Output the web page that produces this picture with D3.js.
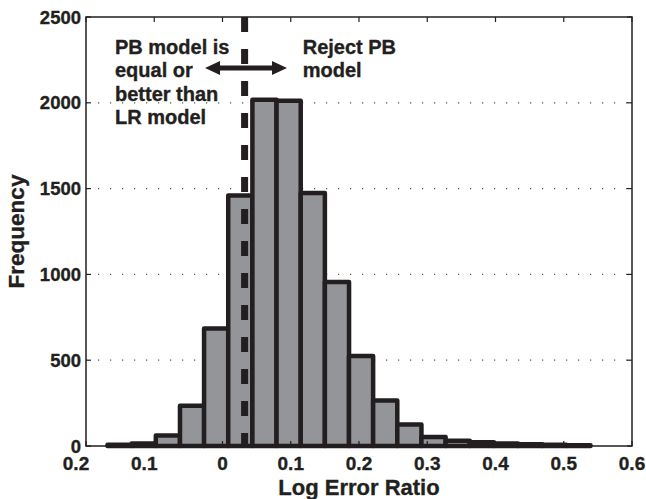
<!DOCTYPE html>
<html>
<head>
<meta charset="utf-8">
<script src="https://cdn.jsdelivr.net/npm/d3@7"></script>
<style>
	body { margin: 0; background: #fff; }
	text { font-family: "Liberation Sans", Arial, Helvetica, sans-serif; font-weight: bold;
		fill: #231f20; stroke: #231f20; stroke-width: 0.35px; }
</style>
</head>
<body>
<svg id="chart" width="646" height="499"></svg>
<script>
// histogram bins (bin centre, count)
var binCenters = [-0.1508, -0.1154, -0.0800, -0.0446, -0.0093, 0.0261, 0.0615, 0.0969,
	0.1323, 0.1677, 0.2030, 0.2384, 0.2738, 0.3092, 0.3446, 0.3800, 0.4153, 0.4507, 0.4861, 0.5215];
var binCounts = [7, 15, 61, 235, 685, 1460, 2018, 2012,
	1475, 955, 525, 265, 125, 52, 30, 22, 15, 10, 7, 5];
var binWidth = 0.0354;

var xTicks = [-0.2, -0.1, 0, 0.1, 0.2, 0.3, 0.4, 0.5, 0.6];
var xTickLabels = ["0.2", "0.1", "0", "0.1", "0.2", "0.3", "0.4", "0.5", "0.6"];
var yTicks = [0, 500, 1000, 1500, 2000, 2500];

// threshold line and annotation
var threshold = 0.0324;
var leftNote = ["PB model is", "equal or", "better than", "LR model"];
var rightNote = ["Reject PB", "model"];

var margin = {left: 86, right: 14, top: 17, bottom: 53};
var W = 646, H = 499;

var svg = d3.select("#chart");

var x = d3.scaleLinear().domain([-0.2, 0.6]).range([margin.left, W - margin.right]);
var y = d3.scaleLinear().domain([0, 2500]).range([H - margin.bottom, margin.top]);

var ink = "#231f20";

// dotted grid
svg.append("g")
	.selectAll("line")
	.data(yTicks.filter(function(d) { return d > 0 && d < 2500; }))
	.enter()
	.append("line")
	.attr("x1", x(-0.2)).attr("x2", x(0.6))
	.attr("y1", function(d) { return y(d); })
	.attr("y2", function(d) { return y(d); })
	.attr("stroke", "#555")
	.attr("stroke-width", 1.2)
	.attr("stroke-dasharray", "1.2,10.8");

// bars
svg.append("g")
	.selectAll("rect")
	.data(binCenters)
	.enter()
	.append("rect")
	.attr("x", function(d) { return x(d - binWidth / 2); })
	.attr("width", function(d) { return x(binWidth) - x(0); })
	.attr("y", function(d, i) { return y(binCounts[i]); })
	.attr("height", function(d, i) { return y(0) - y(binCounts[i]); })
	.attr("fill", "#939598")
	.attr("stroke", ink)
	.attr("stroke-width", 4.5)
	.attr("stroke-linejoin", "round");

// box
svg.append("rect")
	.attr("x", x(-0.2)).attr("y", y(2500))
	.attr("width", x(0.6) - x(-0.2))
	.attr("height", y(0) - y(2500))
	.attr("fill", "none")
	.attr("stroke", ink)
	.attr("stroke-width", 1.5);

// inward ticks on all four sides
var tk = 5;
var ticks = svg.append("g").attr("stroke", ink).attr("stroke-width", 1.2);
xTicks.forEach(function(v) {
	ticks.append("line").attr("x1", x(v)).attr("x2", x(v)).attr("y1", y(0)).attr("y2", y(0) - tk);
	ticks.append("line").attr("x1", x(v)).attr("x2", x(v)).attr("y1", y(2500)).attr("y2", y(2500) + tk);
});
yTicks.forEach(function(v) {
	ticks.append("line").attr("x1", x(-0.2)).attr("x2", x(-0.2) + tk).attr("y1", y(v)).attr("y2", y(v));
	ticks.append("line").attr("x1", x(0.6)).attr("x2", x(0.6) - tk).attr("y1", y(v)).attr("y2", y(v));
});

// tick labels
svg.append("g")
	.selectAll("text")
	.data(xTicks)
	.enter()
	.append("text")
	.attr("x", function(d) { return x(d) + (d < 0 ? -10 : 0); })
	.attr("y", 470)
	.attr("text-anchor", "middle")
	.attr("font-size", 19)
	.text(function(d, i) { return xTickLabels[i]; });

svg.append("g")
	.selectAll("text")
	.data(yTicks)
	.enter()
	.append("text")
	.attr("x", x(-0.2) - 5)
	.attr("y", function(d) { return y(d); })
	.attr("dy", "0.36em")
	.attr("text-anchor", "end")
	.attr("font-size", 18.5)
	.text(function(d) { return d; });

// axis titles
svg.append("text")
	.attr("x", (x(-0.2) + x(0.6)) / 2)
	.attr("y", 495)
	.attr("text-anchor", "middle")
	.attr("font-size", 22)
	.text("Log Error Ratio");

svg.append("text")
	.attr("transform", "translate(24," + ((y(0) + y(2500)) / 2) + ") rotate(-90)")
	.attr("text-anchor", "middle")
	.attr("font-size", 22.5)
	.text("Frequency");

// threshold dashed line
svg.append("line")
	.attr("x1", x(threshold)).attr("x2", x(threshold))
	.attr("y1", y(2500)).attr("y2", y(0))
	.attr("stroke", ink)
	.attr("stroke-width", 7)
	.attr("stroke-dasharray", "15,17");

// double arrow
var ay = y(2203), ax0 = x(-0.0256), ax1 = x(0.0945), hl = 15, hw = 7;
svg.append("line")
	.attr("x1", ax0 + hl - 2).attr("x2", ax1 - hl + 2)
	.attr("y1", ay).attr("y2", ay)
	.attr("stroke", ink).attr("stroke-width", 5);
svg.append("path")
	.attr("d", "M" + ax0 + "," + ay + "L" + (ax0 + hl) + "," + (ay - hw) + "L" + (ax0 + hl) + "," + (ay + hw) + "Z" +
		"M" + ax1 + "," + ay + "L" + (ax1 - hl) + "," + (ay - hw) + "L" + (ax1 - hl) + "," + (ay + hw) + "Z")
	.attr("fill", ink);

// notes
svg.append("text")
	.attr("x", x(-0.1575)).attr("y", 54)
	.attr("font-size", 20)
	.selectAll("tspan")
	.data(leftNote)
	.enter()
	.append("tspan")
	.attr("x", x(-0.1575))
	.attr("dy", function(d, i) { return i ? 23.3 : 0; })
	.text(function(d) { return d; });

svg.append("text")
	.attr("x", x(0.1175)).attr("y", 54)
	.attr("font-size", 20)
	.selectAll("tspan")
	.data(rightNote)
	.enter()
	.append("tspan")
	.attr("x", x(0.1175))
	.attr("dy", function(d, i) { return i ? 23.3 : 0; })
	.text(function(d) { return d; });
</script>
</body>
</html>
